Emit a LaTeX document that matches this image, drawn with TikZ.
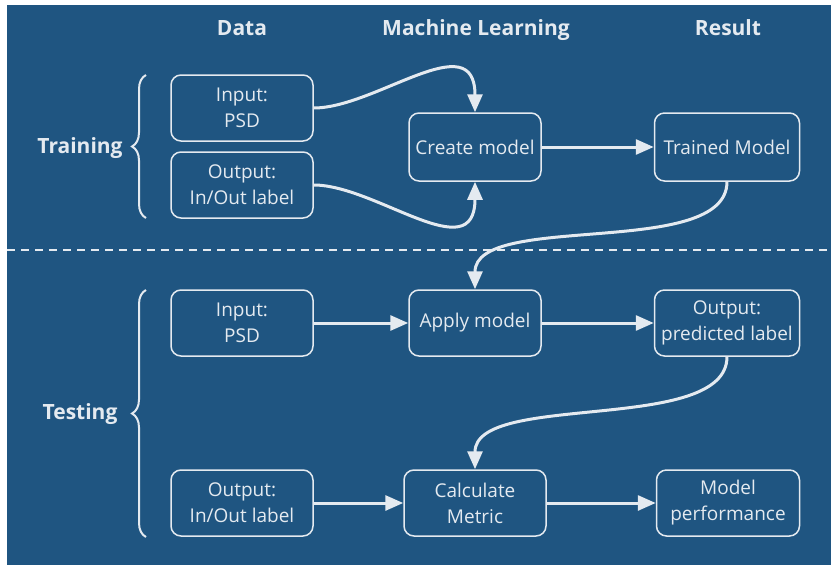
\documentclass[tikz,border=0pt]{standalone}
\usepackage{fontspec}
\setmainfont{Open Sans}
\usepackage{xcolor}
\usepackage{tikz}
\usetikzlibrary{arrows.meta, decorations.pathreplacing}
\definecolor{bgblue}{HTML}{1F5581}
\definecolor{fg}{HTML}{E4EAF0}
\tikzset{->, >={Triangle[width=15pt, length=18pt]}, font=\fontsize{19}{26}\selectfont}
\tikzset{box/.style={shape=rectangle, draw=fg, text=fg, line width=1.5pt,
    rounded corners=10pt, align=center, minimum width=142pt, minimum height=66pt}}
\tikzset{head/.style={text=fg, anchor=base, font=\fontsize{21}{24}\selectfont\bfseries}}
\tikzset{flow/.style={draw, color=fg, line width=3pt}}
\tikzset{curly/.style={-, draw=fg, line width=2pt, decorate,
    decoration={brace, amplitude=14pt}}}

\begin{document}
\begin{tikzpicture}[x=1pt, y=-1pt]
  \useasboundingbox (0,0) rectangle (831,565);
  \fill[bgblue] (7,5) rectangle (831,565);
  %%%%% column heads
  \node[head] (hdata) at (242,35) {Data};
  \node[head] (hml) at (476,35) {Machine Learning};
  \node[head] (hres) at (728,35) {Result};
  %%%%% training
  \node[head] (train) at (80,153) {Training};
  \coordinate (trtop) at (146,75);
  \coordinate (trbot) at (146,218);
  \draw[curly] (trbot) -- (trtop);
  \node[box] (trin) at (242,108) {Input:\\PSD};
  \node[box] (trout) at (242,185) {Output:\\In/Out label};
  \node[box, minimum width=132pt, minimum height=68pt] (create) at (475,147) {Create model};
  \node[box, minimum width=145pt, minimum height=68pt] (trained) at (727,147) {Trained Model};
  \path[flow] (trin.east) .. controls +(62,0) and +(0,-88) .. (create.north);
  \path[flow] (trout.east) .. controls +(62,0) and +(0,88) .. (create.south);
  \path[flow] (create) edge (trained);
  %%%%% split
  \coordinate (cutl) at (7,250);
  \coordinate (cutr) at (831,250);
  \draw[-, draw=fg, line width=2pt, dash pattern=on 8pt off 6pt] (cutl) -- (cutr);
  %%%%% testing
  \node[head] (test) at (80,419) {Testing};
  \coordinate (tetop) at (146,290);
  \coordinate (tebot) at (146,537);
  \draw[curly] (tebot) -- (tetop);
  \node[box] (tein) at (242,323) {Input:\\PSD};
  \node[box, minimum width=132pt] (apply) at (475,323) {Apply model};
  \node[box, minimum width=145pt] (pred) at (727,323) {Output:\\predicted label};
  \node[box] (teout) at (242,503) {Output:\\In/Out label};
  \node[box] (metric) at (475,503) {Calculate\\Metric};
  \node[box, minimum width=143pt] (perf) at (728,503) {Model\\performance};
  \path[flow] (trained.south) .. controls +(0,78) and +(0,-78) .. (apply.north);
  \path[flow] (tein) edge (apply);
  \path[flow] (apply) edge (pred);
  \path[flow] (pred.south) .. controls +(0,78) and +(0,-78) .. (metric.north);
  \path[flow] (teout) edge (metric);
  \path[flow] (metric) edge (perf);
\end{tikzpicture}
\end{document}
